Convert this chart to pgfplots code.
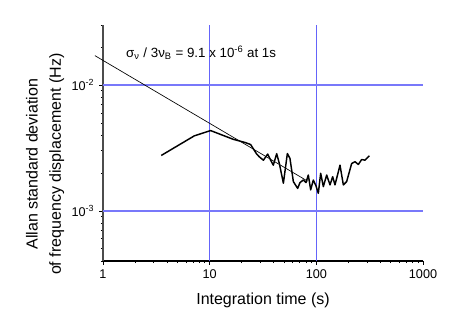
\documentclass[border=0pt]{standalone}
\usepackage{fontspec}
\setmainfont{Liberation Sans}
\usepackage{pgfplots}
\pgfplotsset{compat=1.18}
\definecolor{gridblue}{RGB}{100,100,250}
\definecolor{gridlight}{RGB}{120,120,250}
\begin{document}
\begin{tikzpicture}
\useasboundingbox (-77.25pt,-54pt) rectangle (270pt,195.75pt);
\begin{axis}[
  at={(0pt,0pt)}, anchor=south west,
  scale only axis, width=240pt, height=177pt,
  xmode=log, ymode=log,
  xmin=1, xmax=1000, ymin=4e-4, ymax=3e-2,
  axis x line=bottom, axis y line=left,
  x axis line style={-, black, line width=0.8pt},
  y axis line style={-, black!70, line width=0.8pt},
  tick align=outside,
  major tick length=3pt, minor tick length=1.6pt,
  tick style={black, line width=0.6pt},
  xtick={1,10,100,1000}, xticklabels={1,10,100,1000},
  ytick={1e-3,1e-2}, yticklabels={10\textsuperscript{-3},10\textsuperscript{-2}},
  minor xtick={2,3,4,5,6,7,8,9,20,30,40,50,60,70,80,90,200,300,400,500,600,700,800,900},
  minor ytick={0.0004,0.0005,0.0006,0.0007,0.0008,0.0009,0.002,0.003,0.004,0.005,0.006,0.007,0.008,0.009,0.02,0.03},
  tick label style={font=\fontsize{9.5}{11}\selectfont},
  xlabel={Integration time (s)},
  ylabel={Allan standard deviation\\of frequency displacement (Hz)},
  label style={font=\fontsize{12}{17.5}\selectfont, align=center},
  xlabel style={at={(axis description cs:0.5,-0.186)}, anchor=base},
  ylabel style={at={(axis description cs:-0.181,0.41)}, anchor=center},
  clip=false,
]
% grid lines
\addplot[draw=gridblue, line width=0.8pt] coordinates {(10.04,4e-4)(10.04,3e-2)};
\addplot[draw=gridblue, line width=0.75pt] coordinates {(100,4e-4)(100,3e-2)};
\addplot[draw=gridlight, line width=0.9pt] coordinates {(1,1e-3)(1000,1e-3)};
\addplot[draw=gridlight, line width=0.9pt] coordinates {(1,1e-2)(1000,1e-2)};
% tau^-1/2 guide line
\addplot[black, line width=0.5pt] coordinates {(0.84,1.713e-2)(83,1.723e-3)};
% measured Allan deviation
\addplot[black, line width=1.1pt, line join=round] coordinates {
  (3.52,2.76e-3)(7.18,3.95e-3)(10.2,4.35e-3)(16.6,3.71e-3)(21.4,3.50e-3)
  (24.2,3.37e-3)(27.6,2.83e-3)(29.2,2.69e-3)(31.9,2.53e-3)(35.0,2.83e-3)
  (37.3,2.53e-3)(39.5,2.31e-3)(42.5,2.85e-3)(45.0,2.38e-3)(49.1,1.66e-3)
  (53.5,2.86e-3)(56.6,2.61e-3)(60.9,1.71e-3)(66.8,1.51e-3)(70.3,1.68e-3)
  (75.5,1.76e-3)(80.0,1.68e-3)(84.1,1.93e-3)(88.5,1.47e-3)(93.7,1.76e-3)
  (99.3,1.58e-3)(104.4,1.38e-3)(109.8,1.99e-3)(116.3,1.56e-3)(125.0,1.93e-3)
  (134.3,1.61e-3)(142.3,1.87e-3)(149.6,1.61e-3)(166.7,2.31e-3)(179.1,1.61e-3)
  (192.4,1.71e-3)(214.4,2.38e-3)(230.4,2.46e-3)(247.6,2.34e-3)(266.1,2.56e-3)
  (285.9,2.53e-3)(314.0,2.74e-3)};
\node[anchor=base west, inner sep=0pt, font=\fontsize{10}{12}\selectfont]
  at (axis cs:1.64,1.66e-2)
  {σ\textsubscript{ν} / 3ν\textsubscript{B} = 9.1 x 10\textsuperscript{-6} at 1s};
\end{axis}
\end{tikzpicture}
\end{document}
